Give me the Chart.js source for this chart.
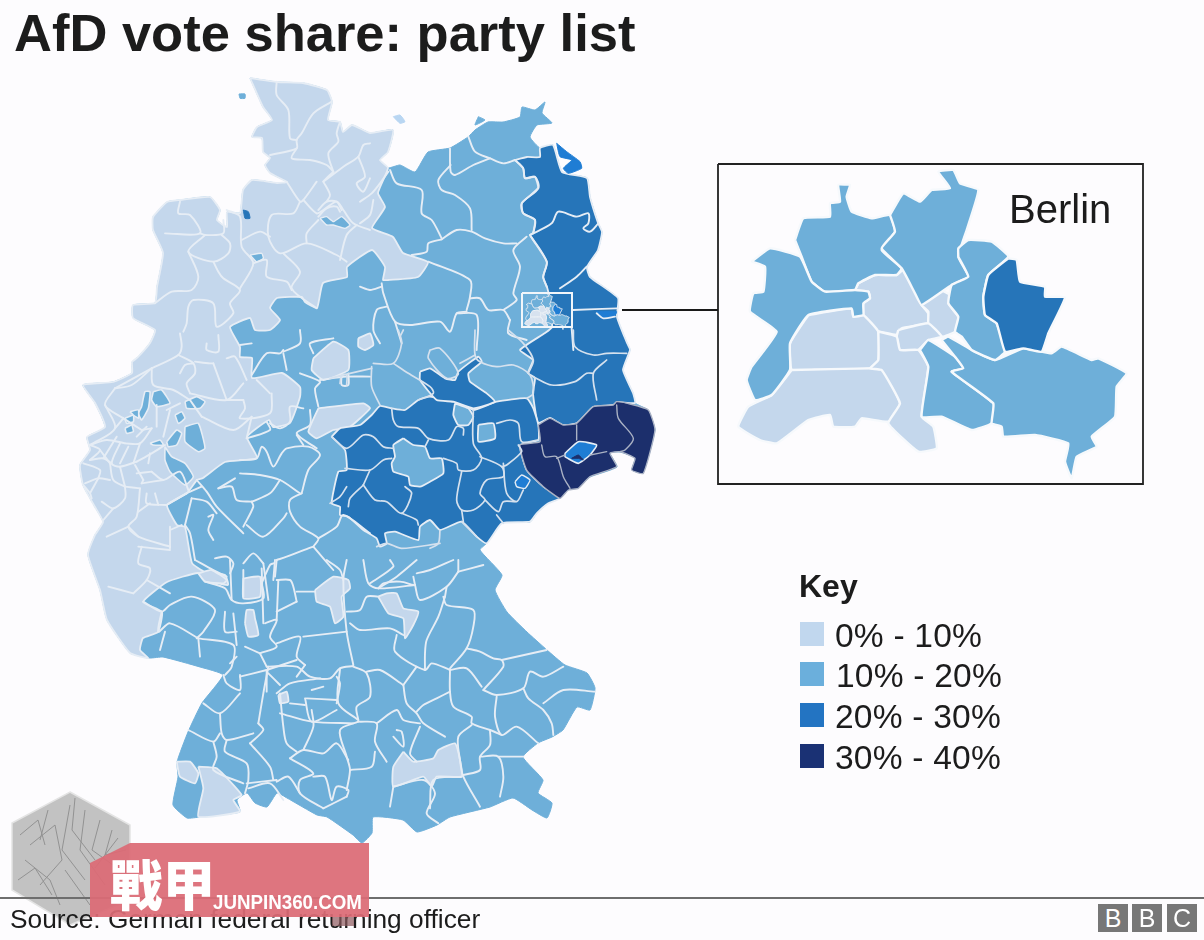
<!DOCTYPE html>
<html><head><meta charset="utf-8">
<style>
html,body{margin:0;padding:0;background:#fdfcfe;overflow:hidden}
#wrap{position:relative;width:1204px;height:940px;font-family:"Liberation Sans",Arial,sans-serif;color:#1c1c1c}
canvas{position:absolute;left:0;top:0}
.t{position:absolute;white-space:nowrap;line-height:normal}
.sw{position:absolute;width:24px;height:24px}
.bbc{position:absolute;top:904px;width:30px;height:28px;background:#777;color:#fff;font-size:25px;text-align:center;line-height:29px}
svg{position:absolute;left:0;top:0}
</style>
<script src="https://cdn.jsdelivr.net/npm/chart.js@4"></script>
</head><body>
<div id="wrap">
<canvas id="c" width="1204" height="940"></canvas>
<svg width="1204" height="940">
<polygon points="70,792 130,825 130,900 70,925 12,890 12,823" fill="#c2c2c2" stroke="#e4e4e4" stroke-width="1.5"/>
<g fill="none" stroke="#929292" stroke-width="1">
<polyline points="30,845 55,825 62,860 40,885"/><polyline points="70,805 62,850 85,880"/><polyline points="85,810 80,850 105,885"/><polyline points="100,820 92,850 120,870"/><polyline points="25,860 50,880 60,905"/><polyline points="112,830 105,855 126,850"/><polyline points="48,810 40,840"/><polyline points="65,870 90,905"/><polyline points="20,835 38,820 45,845"/><polyline points="75,798 72,830 95,860"/><polyline points="18,880 35,868 52,895"/><polyline points="118,838 95,868"/>
</g>
</svg>
<div class="t" style="left:14px;top:2px;font-size:52.5px;font-weight:bold" id="title"></div>
<div class="t" style="left:1009px;top:187px;font-size:40px">Berlin</div>
<div class="t" style="left:799px;top:568px;font-size:32px;font-weight:bold">Key</div>
<div id="key"></div>
<div style="position:absolute;left:0;top:897px;width:1204px;height:2px;background:#6e6e6e"></div>
<div class="t" style="left:10px;top:904px;font-size:26.3px" id="source"></div>
<div class="bbc" style="left:1098px">B</div><div class="bbc" style="left:1132px">B</div><div class="bbc" style="left:1167px">C</div>
<svg width="1204" height="940">
<polygon points="130,843 369,843 369,917 90,917 90,863" fill="#dc6a75" opacity=".93"/>
<text x="110" y="906" font-family="Noto Sans CJK TC" font-weight="900" font-size="54" fill="#fff" textLength="105" lengthAdjust="spacingAndGlyphs">戰甲</text>
<text x="213" y="909" font-family="Liberation Sans" font-weight="bold" font-size="21" fill="#fff" textLength="149" lengthAdjust="spacingAndGlyphs">JUNPIN360.COM</text>
<rect x="332" y="917" width="22" height="9" fill="#8d5a5e" opacity=".7"/>
</svg>
</div>
<script>
const titleText = "AfD vote share: party list";
const sourceText = "Source: German federal returning officer";
const keyLabels = ["0% - 10%","10% - 20%","20% - 30%","30% - 40%"];
const keyColors = ["#c1d7ee","#6bafdc","#2374c2","#1a3174"];
const mapColors = ["#c4d7ec","#6eafd9","#2675b9","#1c2f6c"];
const brightBlue = "#1f7dd4";

/* Map outlines, in map units (x, y pairs). */
const germanyOutline = [250,78,277,82,303,83,327,90,332,102,328,120,340,122,343,132,352,125,370,133,393,130,388,152,380,160,388,168,400,165,415,172,428,152,450,148,468,137,475,130,488,122,503,122,520,117,522,107,535,110,545,102,542,113,552,123,537,125,530,137,540,148,553,145,562,172,587,178,590,197,598,223,602,232,598,250,587,267,590,277,618,298,617,317,627,343,630,350,623,370,633,393,635,403,648,410,655,430,643,473,632,470,635,458,620,452,610,453,617,467,590,477,577,488,568,490,560,498,548,503,537,513,530,522,502,523,487,543,480,550,502,575,495,590,507,612,527,632,547,650,565,665,587,673,595,688,590,710,577,707,563,730,552,737,538,743,523,757,543,780,538,793,552,803,547,818,532,810,513,798,490,807,450,817,437,825,417,832,403,820,373,817,372,833,362,843,353,835,327,817,317,815,287,798,277,793,267,807,255,803,247,793,237,800,240,812,200,817,187,818,173,805,178,777,177,762,188,732,202,703,223,675,200,667,163,657,150,658,130,653,107,620,100,590,88,555,95,535,103,522,95,507,83,485,80,465,90,450,87,437,105,427,95,403,83,385,113,382,132,373,132,362,138,357,150,343,155,330,133,318,133,305,155,303,157,287,163,253,153,230,153,217,167,202,180,200,210,197,220,210,217,220,227,227,227,212,240,213,243,190,252,180,277,183,287,182,270,173,265,165,270,158,263,152,262,138,252,137,257,127,272,120,263,107,250,78];

const lightWest = [250,78,277,82,303,83,327,90,332,102,328,120,340,122,343,132,352,125,370,133,393,130,388,152,380,160,388,168,378,193,385,207,372,228,393,237,403,253,428,262,418,277,388,280,383,280,385,267,372,250,347,267,347,277,323,283,317,308,305,302,302,297,277,298,270,308,280,320,270,330,255,330,250,318,230,327,240,347,240,357,252,358,252,378,282,373,300,387,300,397,290,423,273,427,269,420,247,437,257,458,225,462,203,478,197,480,187,493,167,505,177,525,185,527,192,563,205,572,225,575,228,585,205,580,198,573,167,582,143,602,162,612,158,632,143,638,140,650,148,658,130,653,107,620,100,590,88,555,95,535,103,522,95,507,83,485,80,465,90,450,87,437,105,427,95,403,83,385,113,382,132,373,132,362,138,357,150,343,155,330,133,318,133,305,155,303,157,287,163,253,153,230,153,217,167,202,180,200,210,197,220,210,217,220,227,227,227,212,240,213,243,190,252,180,277,183,287,182,270,173,265,165,270,158,263,152,262,138,252,137,257,127,272,120,263,107,250,78];

const lightPatches3 = [ /* offset 70,330, 3x */
 [745,235,880,220,900,235,840,290,790,300,740,325,715,305,745,235],
 [730,85,790,35,835,60,835,120,760,150,725,120,730,85],
 [865,25,900,10,910,45,885,60,865,50,865,25]];
const lightPatches5 = [ /* offset 130,560, 3x */
 [555,90,610,50,655,60,660,85,635,110,640,170,615,190,600,140,560,125,555,90],
 [745,110,770,100,800,100,820,145,865,155,850,195,825,235,820,175,775,160,745,110],
 [340,55,390,50,390,110,340,115,340,55],
 [345,190,350,150,370,150,375,175,385,225,355,230,345,190],
 [205,40,245,30,290,60,280,70,225,65,205,40],
 [140,605,180,605,205,640,195,670,150,650,140,605],
 [205,620,260,625,335,705,310,720,330,755,205,770,220,685,205,620],
 [820,575,850,605,910,595,925,570,975,550,990,600,995,650,920,650,905,680,880,650,790,680,790,620,820,575],
 [445,405,470,395,475,425,450,430,445,405]];
const midPatchesWest = [ /* offset 70,330, 3x */
 [215,230,225,185,240,185,235,235,215,270,205,250,215,230],
 [250,185,275,180,300,220,260,230,245,210,250,185],
 [345,215,380,200,405,215,390,235,350,235,345,215],
 [165,265,190,255,190,275,170,280,165,265],
 [180,245,205,240,205,265,190,255,180,245],
 [165,295,185,285,190,305,170,310,165,295],
 [315,255,335,245,345,265,325,280,315,255],
 [290,335,320,300,335,310,320,345,295,350,290,335],
 [240,340,270,330,280,345,250,345,240,340],
 [345,290,385,280,405,355,385,365,345,335,345,290],
 [285,350,305,380,345,400,370,440,345,465,300,425,285,390,285,350]];
const midPatchesNorth = [ /* offset 70,70, 3x */
 [750,445,770,440,790,455,815,440,840,465,825,475,790,465,770,465,750,445],
 [540,555,575,550,580,565,560,575,540,555]];
const darkNorth = [515,160,523,168,525,178,535,177,538,188,522,203,523,213,535,220,533,233,530,235,547,262,543,277,547,287,550,300,552,327,545,333,520,350,533,360,528,373,535,378,533,393,538,423,550,418,563,425,577,423,593,407,613,405,617,402,635,403,633,393,623,370,630,350,627,343,617,317,618,298,590,277,587,267,598,250,602,232,598,223,590,197,587,178,562,172,553,145,540,148,540,157,527,157,515,160];
const darkCentral = [5,320,30,295,90,285,125,255,150,228,185,235,225,240,265,210,300,200,370,215,390,215,430,240,500,215,590,205,610,235,625,285,625,330,570,345,590,420,640,470,690,505,655,520,620,550,600,575,515,580,470,640,440,620,395,575,330,600,300,570,270,590,265,630,195,605,165,610,170,640,150,650,140,625,100,600,55,560,30,555,30,530,5,520,25,425,50,420,45,360,5,320];
const darkUpper = [270,125,300,115,345,145,375,150,385,125,445,80,455,95,415,130,420,155,470,190,495,215,430,235,370,215,320,210,270,150,270,125];
const midHoles = [
 [220,325,250,345,285,350,300,385,335,385,340,430,300,455,270,470,240,465,235,440,190,425,185,400,195,380,190,345,220,325],
 [375,220,415,235,430,260,415,285,385,285,370,255,375,220],
 [445,285,490,280,495,325,445,335,445,285]];
const darkest = [625,285,660,265,700,285,740,280,790,230,850,225,860,215,900,222,955,240,975,300,940,430,905,420,915,385,870,365,840,370,860,410,780,440,745,475,715,480,690,505,640,470,590,420,570,345,630,335,625,285];
const darkHole = [705,370,745,335,800,345,780,375,745,400,705,380,705,370];
const darkestCrescent = [725,385,745,375,760,390,745,385,725,385];
const brightPatches4 = [[555,455,575,435,600,450,585,475,560,470,555,455]];
const brightPatches2 = [[590,190,620,215,660,245,665,265,625,280,610,265,635,240,600,230,590,190],[710,695,770,695,760,712,725,715,710,695]];
const islands1 = [[507,72,525,72,525,85,510,85,507,72]];
const islands2 = [[100,110,120,105,135,125,120,130,100,110]];
const islandsMid2 = [[355,110,375,120,345,135,355,110]];
const darkSliver1 = [[520,420,535,425,540,445,525,445,520,420]];

const berlinLight = [
 [430,370,480,345,545,345,565,330,620,435,640,460,640,490,560,505,545,525,480,510,445,465,445,430,465,415,460,395,420,390,430,370],
 [640,370,715,410,700,430,730,470,720,515,680,530,640,490,640,455,620,435,640,370],
 [550,510,640,490,680,530,640,540,610,570,555,570,545,530,550,510],
 [280,465,410,445,415,470,445,465,490,515,490,600,465,625,300,630,230,630,225,550,280,465],
 [230,630,465,625,505,630,555,730,520,785,440,775,420,800,355,800,345,765,280,780,185,850,135,840,70,800,100,740,170,705,230,630],
 [490,515,545,530,555,570,610,570,640,620,620,770,655,800,665,865,610,875,520,790,555,730,500,630,465,625,490,600,490,515]];
const berlinMid = [
 [240,240,265,175,345,170,345,130,375,125,370,75,405,75,395,110,410,155,470,175,525,165,540,215,500,270,560,325,545,345,480,345,430,370,420,390,330,395,290,365,260,290,240,240],
 [525,165,565,100,615,125,650,90,705,85,670,35,715,30,735,70,790,90,755,210,730,290,760,350,710,375,620,435,600,400,560,325,500,265,540,215,525,165],
 [110,305,165,265,255,290,290,365,330,395,420,390,460,395,465,415,445,430,445,465,415,470,410,445,280,465,225,550,225,630,170,705,120,720,95,660,110,620,185,515,105,455,115,400,145,395,150,320,110,305],
 [615,570,640,540,720,590,745,625,710,635,835,730,830,790,770,810,680,770,620,770,640,620,615,570],
 [680,540,700,530,770,570,840,600,925,565,1010,580,1040,560,1130,600,1150,595,1235,640,1205,680,1200,770,1130,830,1145,860,1085,890,1070,955,1050,905,1060,850,960,825,865,830,860,800,830,790,835,730,710,635,745,625,720,590,680,540],
 [730,290,730,265,760,240,830,245,880,290,820,345,805,410,810,465,845,490,870,575,840,600,770,570,740,530,720,515,730,470,700,430,710,375,760,350,730,290]];
const berlinDark = [[880,295,905,300,915,365,990,380,990,410,1050,412,1000,520,980,575,925,565,870,575,845,490,810,465,805,410,820,345,880,295]];

/* District borders, one list per crop */
const bordersNorthWest = [ /* 70,70 */
 [620,35,620,75,655,120,660,205,680,210],[785,95,730,130,695,190,680,210,680,235,600,255],[680,235,665,265,720,270,770,285,790,305],
 [810,155,800,190,805,215,775,250,790,305],[790,305,760,335,820,290,865,260,880,225,900,220],[865,260,885,320,860,340,880,365,900,325],
 [760,335,780,375,770,395],[740,335,700,390,690,395,650,335],[700,390,740,430,760,420,800,395,820,420,850,460,900,480],
 [690,395,670,430,605,435,595,500,630,550,710,520,800,555,830,575],[860,465,830,495,810,570],[710,520,710,490,745,450],
 [285,490,390,490,360,435,325,430,330,395],[390,490,405,495,460,490,460,450],[405,495,355,545,430,575,475,550,480,520,455,495],
 [355,545,385,620,365,660,305,665,255,700],[430,575,445,605,460,625,510,660,480,700,490,730,440,770,430,700,370,690,355,710,350,760,340,785],
 [470,420,510,440,515,530,550,580,510,655],[515,510,570,485,600,500],[550,580,590,570,590,620,650,635,665,660],
 [640,550,690,605,665,655,740,715],[745,420,770,395,800,395,815,420],[745,440,770,415,800,410,810,425]];
const bordersNorthEast = [ /* 360,80 */
 [325,170,345,215,390,235,430,250,465,240],[465,240,490,265,495,295,525,290,535,325,485,370,490,400,525,420,520,460],
 [510,465,575,430,595,395,650,410,685,400,685,430,670,445,690,455,715,430],[510,465,560,545,550,590,560,620],[680,560,650,590,600,625],
 [500,470,460,510,480,560,460,640,470,660,430,690],[270,205,272,275,285,285,340,255,390,235],[272,255,235,300,245,330,285,345,330,385,335,450],
 [90,270,110,310,185,330,185,400,215,420,245,475],[245,478,290,450,335,455,375,475,430,490,470,490],[245,478,205,490,200,515,155,525],
 [205,545,330,600,330,650,320,690],[330,655,360,655,385,690,430,690,450,720],[320,695,290,700,270,755,240,725,150,735,105,725,70,640,65,610],
 [65,620,30,630,0,620],[80,680,50,690,40,750,60,790],[290,700,350,705,350,810],[450,720,445,760,500,780],[105,725,125,790],
 [640,690,770,685],[710,700,730,715,765,710],[635,745,640,810],[0,365,35,340,60,310,85,275],[0,430,30,405,40,360]];
const bordersRhine = [ /* 70,330 */
 [330,10,335,50,325,75,245,115],[245,115,135,175],[135,175,105,225,160,265],[245,115,250,165,310,180,360,210],[325,75,370,100,375,130,350,160,360,190],
 [375,95,420,100,430,100],[330,130,345,105,370,100],[360,190,470,210,520,160],[430,100,470,210],[470,85,495,80,530,150],[410,40,410,60,445,65,445,15],
 [395,260,490,300,545,260],[520,210,525,235,510,265,600,250,605,190],[470,210,520,210],[105,225,135,295,60,345],[60,345,110,330,165,340],
 [150,340,125,400,150,410,200,395],[175,350,150,400],[210,340,190,400],[245,295,215,300],[260,225,260,290],[290,240,330,220],[300,240,280,320],
 [230,290,200,320],[120,400,130,450,165,470],[120,400,90,360],[195,405,220,450],[240,370,235,400],[200,430,245,425],[215,460,280,450],
 [165,470,165,505,130,535,95,515],[210,475,200,560,175,590,205,620,300,650],[230,490,230,520,290,525],[255,490,265,525],[205,545,240,520],
 [60,345,90,360,60,390],[40,465,60,490,65,505],[45,460,85,445,120,450],[300,590,300,655],[300,600,335,585],[175,590,110,620],[215,650,205,700,240,715,230,750,190,790],
 [205,650,300,660],[115,770,190,790],[545,40,510,45],[545,135,590,70,630,70,640,60],[640,70,650,120],[690,0,690,40,640,65],[730,70,720,40,790,25],
 [690,130,750,155,735,175,745,230],[750,150,830,140,900,140],[815,135,815,165,835,165,835,130],[720,240,720,285,680,310,740,355],[680,315,700,345],
 [530,325,600,300,590,275],[600,280,630,295,660,275,660,230,700,235],[510,390,560,385,575,350,590,365,610,410,635,370,650,355,715,350,750,375,715,420,695,490],
 [510,430,570,435,630,450,690,490],[630,450,600,490,545,515],[495,445,445,475],[445,475,485,470,500,510,545,515],[380,450,410,485,440,530,520,610],
 [395,470,350,490,290,525],[365,505,345,585],[365,505,410,515,440,550],[415,560,430,555,415,600,430,630],[345,585,360,610,375,690],
 [545,515,550,530,520,590],[650,550,640,565,580,620,530,585],[695,490,660,510,660,545,690,590,745,625,730,650],[745,625,800,590,820,555,900,610],
 [730,650,790,720],[620,690,650,680,715,655,730,650],[620,690,615,740],[580,700,595,810],[435,685,470,680,490,700,480,730],[520,700,550,670,580,700],
 [135,175,185,165,245,115],[135,295,160,265],[60,390,100,385,125,400],[100,385,140,320],[165,340,210,340,245,295],[160,265,215,300],[60,490,85,445],[130,535,100,570],
 [165,470,210,475],[220,450,215,460],[245,425,280,450,330,425,355,480],[290,525,350,490],[200,395,245,370,285,345],[150,410,165,470],[40,400,90,420,85,445],
 [360,210,395,260],[545,260,530,325],[600,190,560,150],[375,690,430,720,470,740],[230,750,300,790],[205,620,175,590]];
const bordersCentral = [ /* 330,330 */
 [185,235,190,270,205,290,265,295,295,325,355,330,380,290,400,295,400,315],[5,320,50,355,100,315,130,320,160,350,190,355],[295,330,285,350],
 [430,240,430,340,455,385,430,420,385,420,380,400,340,385],[450,380,515,410,520,440,470,450,450,490,465,510,430,540,395,540,380,510,395,425],
 [500,280,540,270,565,280,575,335,625,330],[565,345,575,365,530,405,515,410],[520,400,530,490,560,515,580,480],[465,510,505,545,520,515,555,515],[500,555,520,580],
 [395,540,400,575],[45,415,120,420,160,390,185,385],[100,465,120,420],[100,465,60,505,55,530],[100,465,135,510,170,515,215,550,245,490,225,470],
 [215,550,260,570,265,585],[435,0,435,75,450,95,500,110,550,105,600,135,610,190,590,205],[535,0,580,40,610,90,595,130],[730,0,735,50,790,75,830,70,890,70],
 [830,90,790,130,800,210],[610,140,665,165,735,155,770,130,790,130],[205,0,215,40,190,100,130,100],[190,100,235,130,300,170,310,190,265,210],
 [125,110,125,170,150,225],[125,115,60,130,0,145],[30,160,35,135,50,135,50,165],[435,75,390,100],[300,60,330,55,385,130,350,145,295,85,300,60],
 [0,520,30,500,50,470],[395,575,440,620],[330,600,325,640,300,655],[140,650,170,640,215,655,330,640],[220,0,210,20]];
const bordersCentralDarkest = [ /* 330,330 */
 [635,345,645,380,680,380,700,440,720,475],[740,285,740,330],[860,225,865,265,910,325,885,360,870,365],[680,385,705,375],[780,375,830,365]];
const bordersSouth = [ /* 130,560 */
 [40,125,95,155,120,135,185,110,255,150,220,215,200,235],[95,155,85,215,120,190,205,235],[205,235,310,255,305,320,285,345],[205,235,210,290],[105,215,90,270],
 [225,65,285,85,305,120,340,130,400,115,395,70],[285,155,285,215,320,215],[310,160,320,255],[300,0,305,120],[340,30,340,110],[395,25,400,190],
 [405,190,440,180,420,230,440,260,390,280],[345,260,390,280],[320,290,300,310],[390,280,410,320],[440,250,510,230,500,290,525,315],[520,230,650,215],
 [440,180,445,60],[440,155,500,125],[500,95,555,95],[650,0,640,60,650,215,670,315],[650,155,690,150,710,110,745,110],[660,190,690,210,780,205,820,225],
 [700,0,715,70,745,85,855,75],[860,0,800,50,745,85],[855,75,850,50],[855,75,870,120,950,80,985,35],[985,35,1060,15],[940,110,950,135,1030,150,1030,200,1010,265,960,325],
 [945,110,925,170,890,240,885,280,885,330],[800,225,795,275,885,330,905,310,960,330],[860,320,820,375],[670,318,630,325,600,355,540,350,500,320,410,320],
 [1010,265,1050,275,1090,295,1115,300,1120,320,1060,390],[1115,300,1250,270],[1060,390,1100,405,1180,385,1200,335,1240,350,1300,320],[1180,385,1195,415,1240,450,1265,490,1270,525],
 [1240,430,1300,390,1395,395],[960,330,1010,325,1055,380],[960,330,960,395,970,440,1025,470,1025,490,1080,510,1115,525],[960,395,920,415,880,435,860,455],
 [1100,410,1095,470,1115,525,1160,500,1225,550],[1080,510,1080,555,1050,590,1050,630,1000,645],[1025,495,985,530,990,600,1000,650,1050,740],
 [1050,590,1105,590,1120,650,1110,710],[1105,590,1180,590],[820,375,830,430,860,460,880,490,945,530],[670,320,710,340,720,410,680,440,685,480],
 [710,335,750,330,820,375],[630,325,625,430,685,480],[685,485,740,490,735,545,770,605],[740,490,800,450,820,480,870,490],[870,500,840,580,860,605],
 [800,510,815,515,820,560,790,530],[685,485,630,510,650,590,660,630,650,690],[660,630,725,620,735,575],[790,680,780,740],[790,680,880,660,915,700,890,760,925,790],
 [900,745,910,660,995,650],[415,320,400,400,385,490],[450,400,460,500,470,550,500,575],[385,490,400,510,360,550],[280,345,290,370,330,390,330,345],[330,350,410,330],[410,330,410,395],
 [220,430,270,460,330,400],[270,460,275,520,290,540,370,520],[175,510,250,545,270,520],[250,545,260,590,250,630,340,670],[290,540,285,575,350,610,355,660,345,700],
 [360,550,420,620,430,660],[350,670,440,660],[355,685,420,670,460,720],[450,460,545,485,670,490],[480,595,520,570,580,580,620,550,655,600],[520,570,550,500,545,450],
 [480,595,550,640,510,660,510,700,580,745],[550,650,585,650,605,720,620,680,655,690,650,710],[650,710,580,745],[440,665,475,650,510,700],[530,415,620,420],[525,415,545,485,620,450],
 [480,430,525,435],[440,400,480,370,570,355],[500,350,525,315],[580,380,545,390],[410,330,500,300],[415,340,450,375],[620,350,630,370,620,430],
 [590,0,630,30,640,60],[440,60,480,60,490,80,500,125],[395,70,420,15,430,10],[435,0,430,60],[720,70,790,20,780,0],[860,40,900,30,970,0],[745,85,760,70,810,65,850,75],[985,35,985,0],[950,80,945,110]];

const pairs = (flat, ox, oy, k) => { const out = []; for (let i = 0; i < flat.length; i += 2) out.push({x: ox + flat[i] * k, y: oy + flat[i + 1] * k}); return out; };
const datasets = [];
const edge = '#e6edf5', edgeDark = '#aab2c4';
function area(label, flat, color, ox = 0, oy = 0, k = 1, stroke = null, sw = 0, tension = 0.15) {
  datasets.push({label, data: pairs(flat, ox, oy, k), showLine: true, fill: 'shape', backgroundColor: color,
    borderColor: stroke || color, borderWidth: sw || 1, pointRadius: 0, tension, borderJoinStyle: 'round', clip: false});
}
function border(flat, ox, oy, color = edge, width = 1.9) {
  datasets.push({label: 'border', data: pairs(flat, ox, oy, 1 / 3), showLine: true, fill: false, borderColor: color, borderWidth: width,
    pointRadius: 0, tension: 0.3, borderJoinStyle: 'round', borderCapStyle: 'round', clip: false});
}
const [L, M, D, X] = keyLabels;
const [cL, cM, cD, cX] = mapColors;
const third = 1 / 3;
area(M, germanyOutline, cM);
area(L, lightWest, cL, 0, 0, 1, edge, 1.8);
lightPatches3.forEach(p => area(L, p, cL, 70, 330, third, edge, 1.8));
lightPatches5.forEach(p => area(L, p, cL, 130, 560, third, edge, 1.8));
midPatchesWest.forEach(p => area(M, p, cM, 70, 330, third, edge, 1.6));
midPatchesNorth.forEach(p => area(M, p, cM, 70, 70, third, edge, 1.4));
area(D, darkNorth, cD, 0, 0, 1, edge, 1.8);
area(D, darkCentral, cD, 330, 330, third, edge, 1.8);
area(D, darkUpper, cD, 330, 330, third, edge, 1.8);
midHoles.forEach(p => area(M, p, cM, 330, 330, third, edge, 1.8));
area(X, darkest, cX, 330, 330, third, edgeDark, 1.4);
area(D, darkHole, brightBlue, 330, 330, third, edge, 1.6);
area(X, darkestCrescent, cX, 330, 330, third);
brightPatches4.forEach(p => area(D, p, brightBlue, 330, 330, third, edge, 1.4));
brightPatches2.forEach(p => area(D, p, brightBlue, 360, 80, third));
islands1.forEach(p => area(M, p, cM, 70, 70, third));
islands2.forEach(p => area(L, p, '#b9d6f2', 360, 80, third));
islandsMid2.forEach(p => area(M, p, cM, 360, 80, third));
darkSliver1.forEach(p => area(D, p, cD, 70, 70, third));

bordersNorthWest.forEach(p => border(p, 70, 70));
bordersNorthEast.forEach(p => border(p, 360, 80));
bordersRhine.forEach(p => border(p, 70, 330));
bordersCentral.forEach(p => border(p, 330, 330, '#d5e1ee', 1.7));
bordersCentralDarkest.forEach(p => border(p, 330, 330, edgeDark, 1.4));
bordersSouth.forEach(p => border(p, 130, 560));

/* small Berlin square on the main map */
const miniK = 50 / 1305, miniX = 522, miniY = 293;
berlinMid.forEach(p => area(M, p, cM, miniX, miniY, miniK, '#dfe8f2', 1, 0.1));
berlinDark.forEach(p => area(D, p, brightBlue, miniX, miniY, miniK, '#dfe8f2', 1, 0.1));
berlinLight.forEach(p => area(L, p, '#d7e2ef', miniX, miniY, miniK, '#eef3f8', 1, 0.1));

/* Berlin inset */
berlinLight.forEach(p => area(L, p, cL, 715, 160, third, '#f6f9fc', 2.4, 0.12));
berlinMid.forEach(p => area(M, p, cM, 715, 160, third, '#f6f9fc', 2.4, 0.12));
berlinDark.forEach(p => area(D, p, cD, 715, 160, third, '#f6f9fc', 2.4, 0.12));

/* frames and connector */
const insetFrame = [718,164,1143,164,1143,484,718,484,718,164];
const miniFrame = [522,293,572,293,572,327,522,327,522,293];
const connector = [622,310,718,310];
const line = (flat, color, width) => datasets.push({label: 'frame', data: pairs(flat, 0, 0, 1), showLine: true, fill: false, borderColor: color, borderWidth: width, pointRadius: 0, tension: 0, clip: false});
line(insetFrame, '#222', 1.8);
line(miniFrame, '#f2f6fa', 2);
line(connector, '#1a1a1a', 2);

datasets.forEach((d, i) => d.order = datasets.length - i);

document.getElementById('title').textContent = titleText;
document.getElementById('source').textContent = sourceText;
const keyEl = document.getElementById('key');
const keyTops = [622, 662, 703, 744];
keyLabels.forEach((label, i) => {
  const s = document.createElement('div'); s.className = 'sw'; s.style.cssText = `left:800px;top:${keyTops[i]}px;background:${keyColors[i]}`; keyEl.appendChild(s);
  const t = document.createElement('div'); t.className = 't'; t.textContent = label; t.style.cssText = `left:${i === 1 ? 836 : 835}px;top:${keyTops[i] - 5.5}px;font-size:33.6px;letter-spacing:.2px`; keyEl.appendChild(t);
});

new Chart(document.getElementById('c'), {
  type: 'scatter',
  data: {datasets},
  options: {
    responsive: false, animation: false, events: [], devicePixelRatio: 1,
    layout: {padding: 0},
    plugins: {legend: {display: false}, tooltip: {enabled: false}, title: {display: false}},
    scales: {
      x: {type: 'linear', min: 0, max: 1204, display: false},
      y: {type: 'linear', min: 0, max: 940, reverse: true, display: false}
    }
  }
});
</script>
</body></html>
